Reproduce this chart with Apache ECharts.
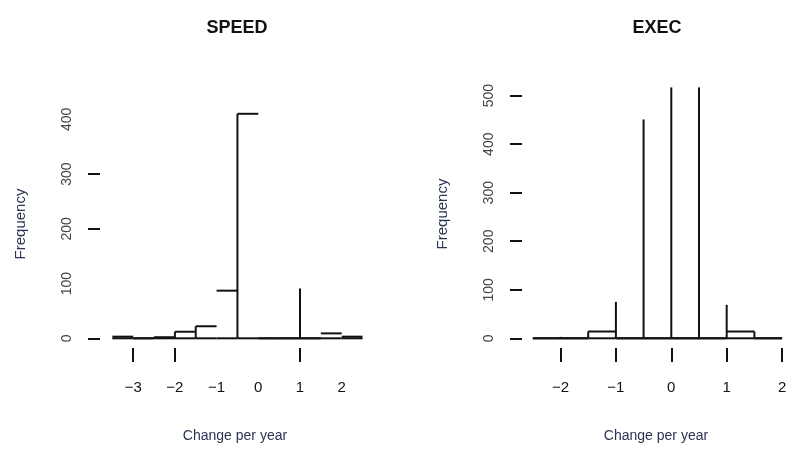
<!DOCTYPE html>
<html>
<head>
<meta charset="utf-8">
<script src="https://cdn.jsdelivr.net/npm/echarts@6/dist/echarts.min.js"></script>
<style>html,body{margin:0;padding:0;background:#fff}#c{width:800px;height:455px}</style>
</head>
<body>
<div id="c"></div>
<script>
// ---- SPEED panel data ----
var speedBinStart = [-3.5, -3, -2.5, -2, -1.5, -1, -0.5, 0, 0.5, 1, 1.5, 2];
var speedBinEnd   = [-3, -2.5, -2, -1.5, -1, -0.5, 0, 0.5, 1, 1.5, 2, 2.5];
var speedCounts   = [3, 0, 2, 12, 22, 87, 410, 0, 0, 0, 9, 3];
var speedSpikeX   = [-2, -1.5, -0.5, 1];
var speedSpikeY   = [12, 22, 410, 91];
var speedXTicks   = [-3, -2, 1];
var speedXLabels  = [-3, -2, -1, 0, 1, 2];
var speedYTicks   = [0, 200, 300];
var speedYLabels  = [0, 100, 200, 300, 400];

// ---- EXEC panel data ----
var execBinStart = [-2.5, -2, -1.5, -1, -0.5, 0, 0.5, 1, 1.5];
var execBinEnd   = [-2, -1.5, -1, -0.5, 0, 0.5, 1, 1.5, 2];
var execCounts   = [0, 0, 14, 0, 0, 0, 0, 14, 0];
var execSpikeX   = [-2, -1.5, -1, -0.5, 0, 0.5, 1, 1.5];
var execSpikeY   = [3, 14, 75, 451, 517, 517, 69, 14];
var execXTicks   = [-2, -1, 0, 1, 2];
var execXLabels  = [-2, -1, 0, 1, 2];
var execYTicks   = [0, 100, 200, 300, 400, 500];
var execYLabels  = [0, 100, 200, 300, 400, 500];

var panelTitles = ['SPEED', 'EXEC'];

var INK = '#111';
var FONT = 'Liberation Sans, Arial, Helvetica, sans-serif';

function binData(s, e, c) {
  return s.map(function (v, i) { return [v, e[i], c[i]]; });
}
function spikeData(x, y) {
  return x.map(function (v, i) { return [v, y[i]]; });
}
function renderBins(params, api) {
  var x0 = api.value(0), x1 = api.value(1), h = api.value(2);
  var b0 = api.coord([x0, 0]), b1 = api.coord([x1, 0]);
  var t0 = api.coord([x0, h]), t1 = api.coord([x1, h]);
  var st = { stroke: INK, lineWidth: 2, fill: null };
  return {
    type: 'group',
    children: [
      { type: 'line', shape: { x1: b0[0], y1: b0[1], x2: b1[0], y2: b1[1] }, style: st },
      { type: 'line', shape: { x1: t0[0], y1: t0[1], x2: t1[0], y2: t1[1] }, style: st }
    ]
  };
}
function renderSpike(params, api) {
  var x = api.value(0), h = api.value(1);
  var p0 = api.coord([x, 0]), p1 = api.coord([x, h]);
  return { type: 'line', shape: { x1: p0[0], y1: p0[1], x2: p1[0], y2: p1[1] },
           style: { stroke: INK, lineWidth: 2 } };
}

function xLabelColor(panel) {
  return function (v) {
    if (v === 1) return '#5f9ea0';
    if (v === -1) return panel === 'exec' ? '#7a1526' : '#3a7f8f';
    return '#111';
  };
}
function minusFmt(v) { return String(v).replace('-', '\u2212'); }

function xAxisCfg(idx, min, max, ticks, labels, panel) {
  return {
    type: 'value', gridIndex: idx, min: min, max: max,
    axisLine: { show: false, onZero: false },
    splitLine: { show: false },
    axisTick: { show: true, length: 14, customValues: ticks, lineStyle: { color: INK, width: 2 } },
    axisLabel: { customValues: labels, margin: 32, fontSize: 15, fontFamily: FONT,
      color: xLabelColor(panel), formatter: minusFmt },
    name: 'Change per year', nameLocation: 'middle', nameGap: 81,
    nameTextStyle: { fontSize: 14, fontFamily: FONT, color: '#2a3552' }
  };
}
function yAxisCfg(idx, min, max, ticks, labels) {
  return {
    type: 'value', gridIndex: idx, min: min, max: max,
    axisLine: { show: false, onZero: false },
    splitLine: { show: false },
    axisTick: { show: true, length: 12, customValues: ticks, lineStyle: { color: INK, width: 2 } },
    axisLabel: { customValues: labels, margin: 26, fontSize: 14, fontFamily: FONT, color: '#444', rotate: 90 },
    name: 'Frequency', nameLocation: 'middle', nameGap: 72, nameRotate: 90,
    nameTextStyle: { fontSize: 15, fontFamily: FONT, color: '#2a3552' }
  };
}

var chart = echarts.init(document.getElementById('c'), null, { renderer: 'canvas' });
chart.setOption({
  animation: false,
  backgroundColor: '#fff',
  graphic: [
    { type: 'text', x: 237, y: 28, style: { text: panelTitles[0], align: 'center', verticalAlign: 'middle',
      font: 'bold 18px ' + FONT, fill: '#111' } },
    { type: 'text', x: 657, y: 28, style: { text: panelTitles[1], align: 'center', verticalAlign: 'middle',
      font: 'bold 18px ' + FONT, fill: '#111' } }
  ],
  grid: [
    { left: 100, top: 100, width: 270, height: 248 },
    { left: 522, top: 80, width: 268, height: 268 }
  ],
  xAxis: [
    xAxisCfg(0, -3.796, 2.679, speedXTicks, speedXLabels, 'speed'),
    xAxisCfg(1, -2.695, 2.143, execXTicks, execXLabels, 'exec')
  ],
  yAxis: [
    yAxisCfg(0, -17.7, 435.2, speedYTicks, speedYLabels),
    yAxisCfg(1, -20, 532.3, execYTicks, execYLabels)
  ],
  series: [
    { type: 'custom', xAxisIndex: 0, yAxisIndex: 0, renderItem: renderBins,
      data: binData(speedBinStart, speedBinEnd, speedCounts), encode: { x: [0, 1], y: 2 } },
    { type: 'custom', xAxisIndex: 0, yAxisIndex: 0, renderItem: renderSpike,
      data: spikeData(speedSpikeX, speedSpikeY), encode: { x: 0, y: 1 } },
    { type: 'custom', xAxisIndex: 1, yAxisIndex: 1, renderItem: renderBins,
      data: binData(execBinStart, execBinEnd, execCounts), encode: { x: [0, 1], y: 2 } },
    { type: 'custom', xAxisIndex: 1, yAxisIndex: 1, renderItem: renderSpike,
      data: spikeData(execSpikeX, execSpikeY), encode: { x: 0, y: 1 } }
  ]
});
</script>
</body>
</html>
